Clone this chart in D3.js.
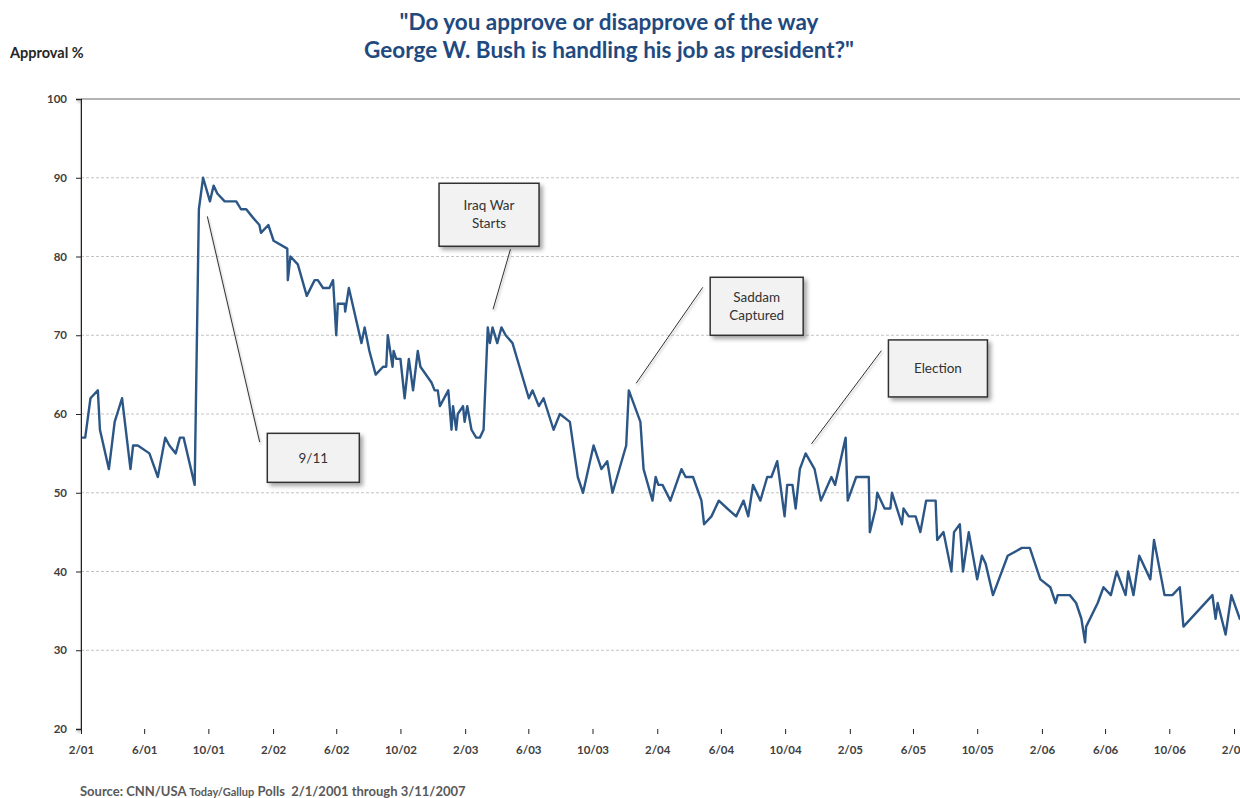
<!DOCTYPE html>
<html>
<head>
<meta charset="utf-8">
<script src="https://cdn.jsdelivr.net/npm/d3@7/dist/d3.min.js"></script>
<style>
  body { margin: 0; background: #fff; }
  svg text { font-family: Lato, "Open Sans", sans-serif; }
</style>
</head>
<body>
<div id="chart"></div>
<script>
// poll dates (end of field period) and approval %
var pollDates = [
  "2001-02-03","2001-02-09","2001-02-19","2001-03-05","2001-03-09","2001-03-26","2001-04-06","2001-04-20",
  "2001-05-06","2001-05-11","2001-05-20","2001-06-11","2001-06-27","2001-07-11","2001-07-19","2001-07-31",
  "2001-08-08","2001-08-15","2001-09-05","2001-09-13","2001-09-21","2001-10-04","2001-10-11","2001-10-18",
  "2001-11-01","2001-11-23","2001-12-02","2001-12-12","2001-12-24",
  "2002-01-06","2002-01-09","2002-01-23","2002-02-02","2002-02-28","2002-03-01","2002-03-06","2002-03-20",
  "2002-04-06","2002-04-21","2002-04-27","2002-05-07","2002-05-19","2002-05-26","2002-06-01","2002-06-04",
  "2002-06-17","2002-06-18","2002-06-25","2002-07-19","2002-07-25","2002-08-03","2002-08-15","2002-08-29",
  "2002-09-04","2002-09-07","2002-09-16","2002-09-18","2002-09-23","2002-10-01","2002-10-09","2002-10-17",
  "2002-10-25","2002-11-03","2002-11-08","2002-11-29","2002-12-05","2002-12-11","2002-12-15","2002-12-31",
  "2003-01-06","2003-01-09","2003-01-15","2003-01-18","2003-01-28","2003-01-31","2003-02-05","2003-02-13",
  "2003-02-22","2003-03-01","2003-03-08","2003-03-16","2003-03-20","2003-03-25","2003-04-03","2003-04-11",
  "2003-04-19","2003-05-02","2003-06-02","2003-06-09","2003-06-21","2003-06-30","2003-07-19","2003-07-31",
  "2003-08-19","2003-09-03","2003-09-13","2003-10-03","2003-10-18","2003-10-29","2003-11-08","2003-12-04",
  "2003-12-09","2003-12-31",
  "2004-01-06","2004-01-23","2004-01-29","2004-02-03","2004-02-11","2004-02-26","2004-03-18","2004-03-26",
  "2004-04-09","2004-04-25","2004-04-30","2004-05-14","2004-05-28","2004-06-13","2004-06-30","2004-07-14",
  "2004-07-23","2004-08-01","2004-08-15","2004-08-28","2004-09-05","2004-09-16","2004-09-30","2004-10-05",
  "2004-10-15","2004-10-21","2004-10-29","2004-11-09","2004-11-26","2004-12-08","2004-12-28",
  "2005-01-04","2005-01-24","2005-01-28","2005-02-13","2005-03-09","2005-03-11","2005-03-22","2005-03-25",
  "2005-04-08","2005-04-19","2005-04-22","2005-05-11","2005-05-14","2005-05-24","2005-06-06","2005-06-15",
  "2005-06-26","2005-07-14","2005-07-17","2005-07-29","2005-08-13","2005-08-18","2005-08-29","2005-09-04",
  "2005-09-15","2005-10-01","2005-10-10","2005-10-17","2005-10-31","2005-11-28","2005-12-25",
  "2006-01-09","2006-01-29","2006-02-17","2006-02-27","2006-03-03","2006-03-26","2006-04-07","2006-04-17",
  "2006-04-24","2006-04-26","2006-05-18","2006-05-29","2006-06-12","2006-06-23","2006-07-10","2006-07-15",
  "2006-07-25","2006-08-05","2006-08-26","2006-09-02","2006-09-22","2006-10-07","2006-10-21","2006-10-28",
  "2006-12-22","2006-12-28",
  "2007-01-01","2007-01-16","2007-01-27","2007-02-12","2007-03-11"
];
var approval = [
  57,57,62,63,58,53,59,62,
  53,56,56,55,52,57,56,55,
  57,57,51,86,90,87,89,88,
  87,87,86,86,85,
  84,83,84,82,81,77,80,79,
  75,77,77,76,76,77,70,74,
  74,73,76,69,71,68,65,66,
  66,70,66,68,67,67,62,67,
  63,68,66,64,63,63,61,63,
  58,61,58,60,61,59,61,58,
  57,57,58,71,69,71,69,71,
  70,69,62,63,61,62,58,60,
  59,52,50,56,53,54,50,56,
  63,59,
  53,49,52,51,51,49,53,52,
  52,49,46,47,49,48,47,49,
  47,51,49,52,52,54,47,51,
  51,48,53,55,53,49,52,
  51,57,49,52,52,45,48,50,
  48,48,50,46,48,47,47,45,
  49,49,44,45,40,45,46,40,
  45,39,42,41,37,42,43,
  43,39,38,36,37,37,36,34,
  31,33,36,38,37,40,37,40,
  37,42,39,44,37,37,38,33,
  37,34,
  36,32,37,34,33
];

var yTicks = [20, 30, 40, 50, 60, 70, 80, 90, 100];
var xTickLabels = ["2/01","6/01","10/01","2/02","6/02","10/02","2/03","6/03","10/03",
  "2/04","6/04","10/04","2/05","6/05","10/05","2/06","6/06","10/06","2/07"];

var titleLines = ["\"Do you approve or disapprove of the way",
                  "George W. Bush is handling his job as president?\""];

// callouts: the point the leader touches, and where the box sits relative to it (px)
var calloutLabels = [["9/11"], ["Iraq War", "Starts"], ["Saddam", "Captured"], ["Election"]];
var calloutDates  = ["2001-09-29", "2003-03-26", "2003-12-23", "2004-11-20"];
var calloutValues = [85.1, 73.3, 63.9, 56.2];

var W = 1240, H = 798;
var parseDay = d3.timeParse("%Y-%m-%d");
var parseTick = d3.timeParse("%m/%y");

var svg = d3.select("#chart").append("svg")
    .attr("width", W)
    .attr("height", H);

var defs = svg.append("defs");
var shadow = defs.append("filter").attr("id", "shadow")
    .attr("x", "-20%").attr("y", "-20%").attr("width", "150%").attr("height", "160%");
shadow.append("feDropShadow")
    .attr("dx", 3).attr("dy", 3).attr("stdDeviation", 2)
    .attr("flood-color", "#000").attr("flood-opacity", 0.35);
var axisShadow = defs.append("filter").attr("id", "axisShadow")
    .attr("x", "-5%").attr("y", "-50%").attr("width", "110%").attr("height", "300%");
axisShadow.append("feDropShadow")
    .attr("dx", 1).attr("dy", 2).attr("stdDeviation", 1)
    .attr("flood-color", "#000").attr("flood-opacity", 0.3);

var x = d3.scaleTime()
    .domain([parseDay("2001-02-01"), parseDay("2007-02-01")])
    .range([81, 1234]);
var y = d3.scaleLinear().domain([20, 100]).range([729, 99]);

var data = pollDates.map(function(d, i) { return { date: parseDay(d), value: approval[i] }; });

// gridlines
svg.append("g")
    .selectAll("line")
    .data(yTicks.filter(function(t) { return t > 20; }))
    .enter().append("line")
    .attr("x1", x.range()[0]).attr("x2", W)
    .attr("y1", function(d) { return y(d); })
    .attr("y2", function(d) { return y(d); })
    .attr("stroke", function(d) { return d === 100 ? "#999" : "#c4c4c4"; })
    .attr("stroke-width", function(d) { return d === 100 ? 1.5 : 1; })
    .attr("stroke-dasharray", function(d) { return d === 100 ? null : "3,2"; });

// y axis
var yAxis = svg.append("g")
    .attr("transform", "translate(" + x.range()[0] + ",0)")
    .call(d3.axisLeft(y).tickValues(yTicks).tickSize(5).tickPadding(9));
yAxis.select(".domain").attr("stroke", "#222").attr("stroke-width", 1.5).attr("filter", "url(#axisShadow)");
yAxis.selectAll(".tick line").attr("stroke", "#222");
yAxis.selectAll(".tick text")
    .style("font-size", "11.5px").style("font-weight", "bold").attr("fill", "#404040");

// x axis
var xTickDates = xTickLabels.map(function(t) { return parseTick(t); });
var xAxis = svg.append("g")
    .attr("transform", "translate(0," + y(20) + ")")
    .call(d3.axisBottom(x).tickValues(xTickDates).tickSize(5).tickPadding(12)
        .tickFormat(function(d, i) { return xTickLabels[i]; }));
xAxis.select(".domain").attr("d", "M" + x.range()[0] + ",0H" + W)
    .attr("stroke", "#222").attr("stroke-width", 1.5).attr("filter", "url(#axisShadow)");
xAxis.selectAll(".tick line").attr("stroke", "#222");
xAxis.selectAll(".tick text")
    .style("font-size", "11.5px").style("font-weight", "bold").attr("fill", "#404040");

// approval line
var line = d3.line()
    .x(function(d) { return x(d.date); })
    .y(function(d) { return y(d.value); });

svg.append("path")
    .datum(data)
    .attr("d", line)
    .attr("fill", "none")
    .attr("stroke", "#2b5686")
    .attr("stroke-width", 2.4)
    .attr("stroke-linejoin", "round");

// callouts
var boxOffset = [[60, 217], [-54, -126], [74, -106], [77, -104]];
var boxSize = [[92, 49], [100, 63], [93, 58], [99, 57]];
var leaderEnd = [[52.4, 225.7], [17.4, -60], [66.6, -96], [70, -93.3]];

calloutLabels.forEach(function(lines, i) {
    var px = x(parseDay(calloutDates[i])), py = y(calloutValues[i]);
    var g = svg.append("g");
    g.append("line")
        .attr("x1", px).attr("y1", py)
        .attr("x2", px + leaderEnd[i][0]).attr("y2", py + leaderEnd[i][1])
        .attr("stroke", "#333").attr("stroke-width", 1)
        .attr("filter", "url(#axisShadow)");
    var bx = px + boxOffset[i][0], by = py + boxOffset[i][1];
    g.append("rect")
        .attr("x", bx).attr("y", by)
        .attr("width", boxSize[i][0]).attr("height", boxSize[i][1])
        .attr("fill", "#f2f2f2").attr("stroke", "#333").attr("stroke-width", 1.5)
        .attr("filter", "url(#shadow)");
    var cy = by + boxSize[i][1] / 2 - (lines.length - 1) * 9;
    g.selectAll("text").data(lines).enter().append("text")
        .attr("x", bx + boxSize[i][0] / 2)
        .attr("y", function(d, j) { return cy + j * 18; })
        .attr("dy", "0.35em")
        .attr("text-anchor", "middle")
        .style("font-size", "13.5px")
        .attr("fill", "#333")
        .text(function(d) { return d; });
});

// title
svg.append("g").selectAll("text").data(titleLines).enter().append("text")
    .attr("x", 609)
    .attr("y", function(d, i) { return 22 + i * 28; })
    .attr("dy", "0.35em")
    .attr("text-anchor", "middle")
    .style("font-size", "22.5px").style("font-weight", "bold")
    .attr("fill", "#1f4a80")
    .text(function(d) { return d; });

svg.append("text")
    .attr("x", 10).attr("y", 53).attr("dy", "0.35em")
    .style("font-size", "14.5px").style("font-weight", "bold")
    .attr("fill", "#262626")
    .text("Approval %");

// source note
var src = svg.append("text")
    .attr("x", 80).attr("y", 791).attr("dy", "0.35em")
    .style("font-size", "13px").style("font-weight", "bold")
    .style("white-space", "pre")
    .attr("fill", "#595959");
src.append("tspan").text("Source: CNN/USA ");
src.append("tspan").style("font-size", "11px").text("Today/Gallup");
src.append("tspan").text(" Polls  2/1/2001 through 3/11/2007");
</script>
</body>
</html>
